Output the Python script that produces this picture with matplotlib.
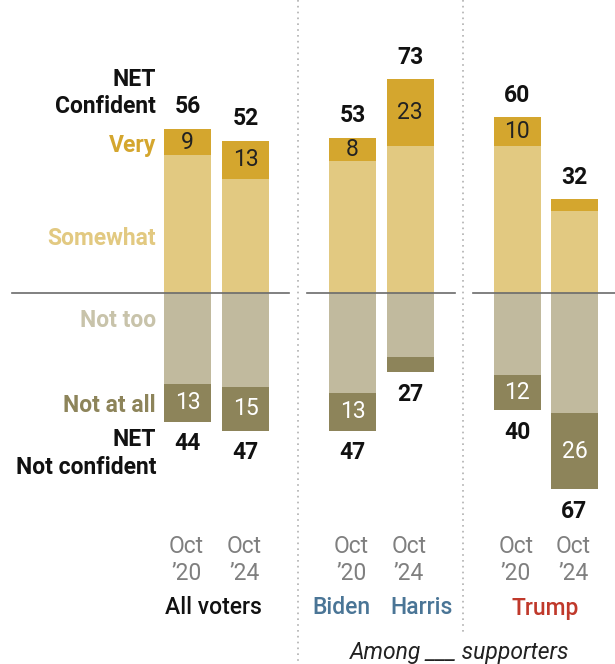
import matplotlib
matplotlib.use("Agg")
import matplotlib.pyplot as plt

plt.rcParams['font.family'] = ['Roboto', 'DejaVu Sans']

# columns: All voters '20, '24 / Biden '20 / Harris '24 / Trump '20, '24
very = [9, 13, 8, 23, 10, 4]
somewhat = [47, 39, 45, 50, 50, 28]
not_too = [31, 32, 34, 22, 28, 41]
not_at_all = [13, 15, 13, 5, 12, 26]
net_conf = [56, 52, 53, 73, 60, 32]
net_not = [44, 47, 47, 27, 40, 67]
show_very = [True, True, True, True, True, False]
show_notall = [True, True, True, False, True, True]
tick_labels = ["Oct\n\u201920", "Oct\n\u201924"] * 3
groups = ["All voters", "Biden", "Harris", "Trump"]

C_VERY = "#d4a62e"
C_SOME = "#e2c981"
C_NOTTOO = "#c1ba9e"
C_NOTALL = "#8d845a"

PX = 2.93  # pixels per percentage point
FS = 16.5


def py(p):
    # pixel row -> y value
    return (293 - p) / PX


fig = plt.figure(figsize=(6.15, 6.64), dpi=100)
ax = fig.add_axes([0, 0, 1, 1])
ax.set_xlim(0, 615)
ax.set_ylim(py(664), py(0))
ax.axis("off")

xs = [187.5, 245.5, 352.5, 410, 517, 574.5]
w = 47

for i, x in enumerate(xs):
    ax.bar(x, somewhat[i], w, bottom=0, color=C_SOME, zorder=2)
    ax.bar(x, very[i], w, bottom=somewhat[i], color=C_VERY, zorder=2)
    ax.bar(x, -not_too[i], w, bottom=0, color=C_NOTTOO, zorder=2)
    ax.bar(x, -not_at_all[i], w, bottom=-not_too[i], color=C_NOTALL, zorder=2)
    if show_very[i]:
        ax.text(x, somewhat[i] + very[i] / 2, str(very[i]), ha="center", va="center",
                fontsize=FS, color="#222222", zorder=3)
    if show_notall[i]:
        ax.text(x, -not_too[i] - not_at_all[i] / 2, str(not_at_all[i]), ha="center",
                va="center", fontsize=FS, color="white", zorder=3)
    top = somewhat[i] + very[i]
    bot = not_too[i] + not_at_all[i]
    ax.text(x, top + 7.5, str(net_conf[i]), ha="center", va="center",
            fontsize=FS, fontweight="bold", color="#111111")
    ax.text(x, -bot - 7.5, str(net_not[i]), ha="center", va="center",
            fontsize=FS, fontweight="bold", color="#111111")
    ax.text(x - 1, py(560), tick_labels[i], ha="center", va="center",
            fontsize=FS, color="#7f7f7f", linespacing=1.2)

# zero lines per panel
for x0, x1 in [(12, 289), (307, 455), (473, 615)]:
    ax.plot([x0, x1], [0, 0], color="#6b6b6b", lw=1.2, zorder=4)

# panel separators
ax.plot([298, 298], [py(0), py(664)], color="#b0b0b0", lw=1.2, ls=(0, (1, 2.5)))
ax.plot([463, 463], [py(0), py(632)], color="#b0b0b0", lw=1.2, ls=(0, (1, 2.5)))

# row labels
lx = 156
rows = [
    (80, "NET", "#111111"),
    (107, "Confident", "#111111"),
    (146, "Very", C_VERY),
    (239, "Somewhat", C_SOME),
    (321, "Not too", "#c8c3aa"),
    (406, "Not at all", C_NOTALL),
    (440, "NET", "#111111"),
    (468, "Not confident", "#111111"),
]
for p, label, col in rows:
    ax.text(lx, py(p), label, ha="right", va="center", fontsize=FS,
            fontweight="bold", color=col)

# group labels
ax.text(213.5, py(608), groups[0], ha="center", va="center", fontsize=FS,
        fontweight="medium", color="#111111")
ax.text(341.5, py(608), groups[1], ha="center", va="center", fontsize=FS,
        fontweight="medium", color="#4a7596")
ax.text(422, py(608), groups[2], ha="center", va="center", fontsize=FS,
        fontweight="medium", color="#4a7596")
ax.text(545, py(608), groups[3], ha="center", va="center", fontsize=FS,
        fontweight="medium", color="#c0392b")
ax.text(460, py(653), "Among ___ supporters", ha="center", va="center",
        fontsize=FS, style="italic", color="#222222")

fig.savefig("out.png", dpi=100)
